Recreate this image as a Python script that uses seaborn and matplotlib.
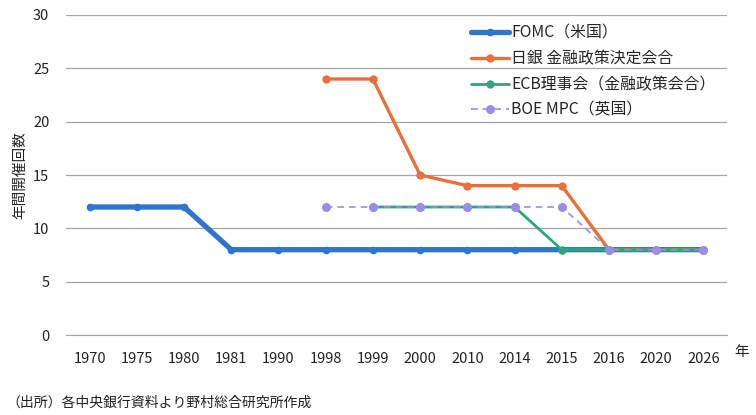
import numpy as np
import pandas as pd
import seaborn as sns
import matplotlib.pyplot as plt

# data
years = ['1970', '1975', '1980', '1981', '1990', '1998', '1999',
         '2000', '2010', '2014', '2015', '2016', '2020', '2026']
fomc = [12, 12, 12, 8, 8, 8, 8, 8, 8, 8, 8, 8, 8, 8]
boj = [np.nan] * 5 + [24, 24, 15, 14, 14, 14, 8, 8, 8]
ecb = [np.nan] * 6 + [12, 12, 12, 12, 8, 8, 8, 8]
boe = [np.nan] * 5 + [12, 12, 12, 12, 12, 12, 8, 8, 8]

labels = ['FOMC（米国）', '日銀 金融政策決定会合',
          'ECB理事会（金融政策会合）', 'BOE MPC（英国）']
colors = ['#2E75CE', '#E8703A', '#28A87C', '#9A8DE6']

sns.set_style('white')
plt.rcParams['font.family'] = ['Noto Sans CJK JP', 'DejaVu Sans']

df = pd.DataFrame({'year': years, labels[0]: fomc, labels[1]: boj,
                   labels[2]: ecb, labels[3]: boe})

fig = plt.figure(figsize=(7.56, 4.15), dpi=100)
ax = fig.add_axes([66 / 756, 1 - 335 / 415, 661 / 756, 320 / 415])

styles = [
    dict(linewidth=3.8, marker='o', markersize=5.5, linestyle='-'),
    dict(linewidth=2.4, marker='o', markersize=6, linestyle='-'),
    dict(linewidth=2.0, marker='o', markersize=6, linestyle='-'),
    dict(linewidth=1.2, marker='o', markersize=6.5, linestyle=(0, (4, 3))),
]
for lab, col, st in zip(labels, colors, styles):
    sub = df[['year', lab]].dropna()
    sns.lineplot(x=sub['year'], y=sub[lab], ax=ax, color=col, label=lab,
                 markeredgewidth=0, sort=False, **st)

ax.set_xlim(-0.5, len(years) - 0.5)
ax.set_ylim(0, 30)
ax.set_yticks(range(0, 31, 5))
ax.set_xticks(range(len(years)))
ax.set_xticklabels(years)
ax.yaxis.grid(True, color='#A6A6A6', linewidth=0.9)
ax.set_axisbelow(True)
for s in ['top', 'right', 'left']:
    ax.spines[s].set_visible(False)
ax.spines['bottom'].set_color('#A6A6A6')
ax.tick_params(axis='both', length=0, labelsize=10.5, colors='#222222')
ax.tick_params(axis='x', pad=12)
ax.tick_params(axis='y', pad=12)
ax.set_xlabel('')
ax.set_ylabel('年間開催回数', fontsize=10.5, color='#222222', labelpad=4)

ax.legend(loc='upper right', bbox_to_anchor=(1.004, 1.014), frameon=False,
          fontsize=11.4, handlelength=2.4, labelspacing=0.55,
          handletextpad=0.15)

fig.text(742 / 756, 1 - 352 / 415, '年', fontsize=10.5, ha='center',
         va='center', color='#222222')
fig.text(6 / 756, 1 - 403 / 415, '（出所）各中央銀行資料より野村総合研究所作成',
         fontsize=10, ha='left', va='center', color='#222222')

plt.savefig('out.png', dpi=100)
